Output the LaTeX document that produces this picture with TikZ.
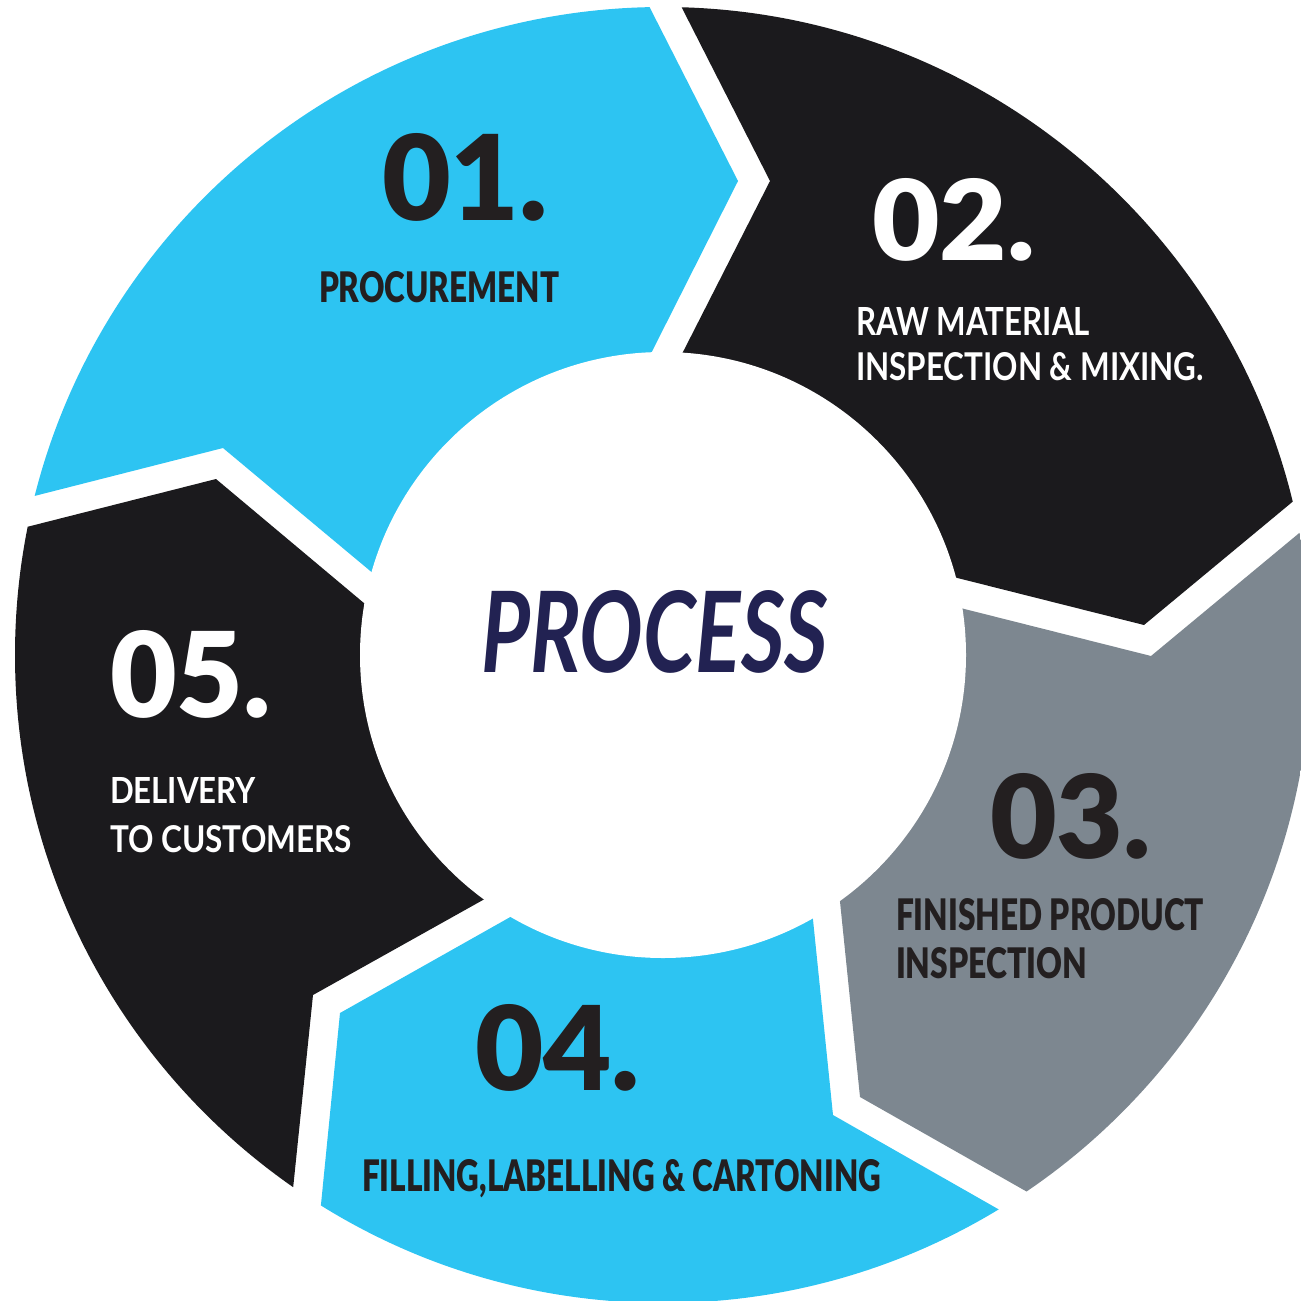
\documentclass[tikz,border=0pt]{standalone}
\usepackage{fontspec}
\setmainfont{Lato}
\newfontfamily\lblack{Lato Black}
\definecolor{segblue}{RGB}{45,196,242}
\definecolor{segblack}{RGB}{27,26,29}
\definecolor{seggrey}{RGB}{125,135,144}
\definecolor{inkdark}{RGB}{35,31,32}
\definecolor{navy}{RGB}{34,34,82}
\newcommand{\fitto}[3]{\resizebox{#1pt}{#2pt}{#3}}
\begin{document}
\begin{tikzpicture}[x=1pt,y=-1pt,
  lbl/.style={anchor=base west, inner sep=0pt, outer sep=0pt},
  numdark/.style={lbl, text=inkdark, font=\lblack},
  numwhite/.style={lbl, text=white, font=\lblack},
  txtdark/.style={lbl, text=inkdark, font=\lblack},
  txtwhite/.style={lbl, text=white, font=\bfseries},
  title/.style={lbl, text=navy, font=\bfseries\itshape}]
\useasboundingbox (0,0) rectangle (1301,1301);
\clip (0,0) rectangle (1301,1301);
\coordinate (C) at (663,655);
\begin{scope}
  \clip (C) circle[radius=648pt];
  % 01 procurement
  \fill[segblue] (417,610) -- (223,448) -- (-60,520) -- (-200,-200) -- (606,-78.5)
     -- (738,181) -- (625,405) -- (C) -- cycle;
  % 02 raw material
  \fill[segblack] (656,405) -- (770,181) -- (638,-78.5) -- (1500,-200) -- (1367,440)
     -- (1144,625) -- (898,563) -- (C) -- cycle;
  % 03 finished product
  \fill[seggrey] (905,594) -- (1151,656) -- (1374,471) -- (1600,1500) -- (1112,1240)
     -- (860,1097) -- (834,843) -- (C) -- cycle;
  % 04 filling
  \fill[segblue] (807,861) -- (833,1115) -- (1084,1258) -- (1100,1700) -- (300,1700)
     -- (311,1305) -- (340,1013) -- (560,889) -- (C) -- cycle;
  % 05 delivery
  \fill[segblack] (533,872) -- (313,995) -- (283,1286) -- (-300,1500) -- (-300,551)
     -- (-68,551) -- (216,479) -- (408,640) -- (C) -- cycle;
\end{scope}
\fill[white] (C) circle[radius=303pt];

\node[title] (process) at (481,672) {\fitto{347}{82}{PROCESS}};

\node[numdark] (n1) at (382,220) {\fitto{166}{87}{01.}};
\node[txtdark] (t1) at (319,302) {\fitto{240}{31}{PROCUREMENT}};

\node[numwhite] (n2) at (872,260) {\fitto{163}{82}{02.}};
\node[txtwhite] (t2a) at (856,335) {\fitto{234}{28}{RAW MATERIAL}};
\node[txtwhite] (t2b) at (856,380) {\fitto{348}{28}{INSPECTION \& MIXING.}};

\node[numdark] (n3) at (990,858) {\fitto{161}{85}{03.}};
\node[txtdark] (t3a) at (896,930) {\fitto{308}{32}{FINISHED PRODUCT}};
\node[txtdark] (t3b) at (896,978) {\fitto{191}{31}{INSPECTION}};

\node[numdark] (n4) at (475,1090) {\fitto{165}{86}{04.}};
\node[txtdark] (t4) at (362,1191) {\fitto{519}{32}{FILLING,LABELLING \& CARTONING}};

\node[numwhite] (n5) at (110,717) {\fitto{161}{87}{05.}};
\node[txtwhite] (t5a) at (110,803) {\fitto{146}{26}{DELIVERY}};
\node[txtwhite] (t5b) at (110,852) {\fitto{242}{27}{TO CUSTOMERS}};
\end{tikzpicture}
\end{document}
